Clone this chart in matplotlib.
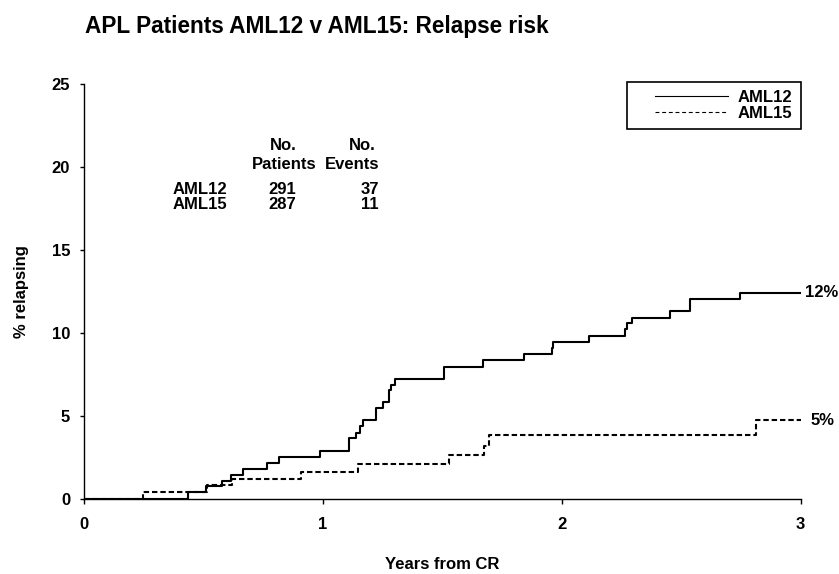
import matplotlib
matplotlib.use("Agg")
import matplotlib.pyplot as plt
from matplotlib.lines import Line2D
from matplotlib.legend_handler import HandlerLine2D

plt.rcParams['font.family'] = ['Liberation Sans', 'DejaVu Sans']
plt.rcParams['font.weight'] = 'bold'
plt.rcParams['axes.labelweight'] = 'bold'

# cumulative relapse (%) at each event time (years from CR)
aml12_years = [0.434, 0.511, 0.577, 0.616, 0.667, 0.765, 0.818, 0.989, 1.110, 1.138,
               1.156, 1.170, 1.223, 1.250, 1.275, 1.285, 1.303, 1.509, 1.670, 1.843,
               1.958, 1.965, 2.113, 2.265, 2.271, 2.292, 2.452, 2.536, 2.745]
aml12_pct = [0.37, 0.75, 1.07, 1.42, 1.80, 2.16, 2.52, 2.88, 3.63, 3.97,
             4.37, 4.72, 5.44, 5.80, 6.54, 6.85, 7.21, 7.95, 8.34, 8.70,
             9.06, 9.44, 9.82, 10.22, 10.57, 10.90, 11.31, 12.03, 12.41]

aml15_years = [0.245, 0.514, 0.621, 0.909, 1.147, 1.526, 1.673, 1.697, 2.811]
aml15_pct = [0.39, 0.80, 1.19, 1.58, 2.08, 2.64, 3.18, 3.81, 4.73]

follow_up = 3.0

trials = ['AML12', 'AML15']
n_patients = [291, 287]
n_events = [37, 11]

x_ticks = [0, 1, 2, 3]
y_ticks = [0, 5, 10, 15, 20, 25]


def step_xy(years, pct):
    xs = [0.0] + list(years) + [follow_up]
    ys = [0.0] + list(pct) + [pct[-1]]
    return xs, ys


fig = plt.figure(figsize=(8.39, 5.74), dpi=100)
ax = fig.add_axes([0.1001, 0.1315, 0.8542, 0.7221])

x12, y12 = step_xy(aml12_years, aml12_pct)
x15, y15 = step_xy(aml15_years, aml15_pct)
ax.step(x15, y15, where='post', color='black', lw=1.5, ls=(0, (2.6, 1.4)))
ax.step(x12, y12, where='post', color='black', lw=1.5)

ax.set_xlim(0, 3)
ax.set_ylim(0, 25)
ax.set_xticks(x_ticks)
ax.set_yticks(y_ticks)
ax.spines['top'].set_visible(False)
ax.spines['right'].set_visible(False)
for s in ['left', 'bottom']:
    ax.spines[s].set_linewidth(1.0)
ax.tick_params(axis='x', length=3.6, width=1.0, pad=10, labelsize=12)
ax.tick_params(axis='y', length=3.0, width=1.0, pad=7, labelsize=12)

ax.set_xlabel('Years from CR', fontsize=12, labelpad=18)
ax.set_ylabel('% relapsing', fontsize=12, labelpad=16)

fig.text(0.1013, 1 - 33.3 / 574, 'APL Patients AML12 v AML15: Relapse risk',
         fontsize=16.3, fontweight='bold', ha='left', va='baseline')

# final relapse rates at the right end of each curve
ax.annotate(f'{round(aml12_pct[-1])}%', xy=(follow_up, aml12_pct[-1]),
            xytext=(3, 0), textcoords='offset points', ha='left', va='center',
            fontsize=12, annotation_clip=False)
ax.annotate(f'{round(aml15_pct[-1])}%', xy=(follow_up, aml15_pct[-1]),
            xytext=(7, 0), textcoords='offset points', ha='left', va='center',
            fontsize=12, annotation_clip=False)

# patient / event counts table
ax.text(0.833, 21.28, 'No.', ha='center', va='center', fontsize=12)
ax.text(0.840, 20.17, 'Patients', ha='center', va='center', fontsize=12)
ax.text(1.166, 21.28, 'No.', ha='center', va='center', fontsize=12)
ax.text(1.122, 20.17, 'Events', ha='center', va='center', fontsize=12)
rows_y = [18.61, 17.72]
for name, n, ev, yy in zip(trials, n_patients, n_events, rows_y):
    ax.text(0.3725, yy, name, ha='left', va='center', fontsize=12)
    ax.text(0.830, yy, str(n), ha='center', va='center', fontsize=12)
    ax.text(1.195, yy, str(ev), ha='center', va='center', fontsize=12)

h12 = Line2D([], [], color='black', lw=0.8)
h15 = Line2D([], [], color='black', lw=0.8, ls=(0, (3.5, 2.5)))
hdl = HandlerLine2D(numpoints=2, marker_pad=1.2)
leg = ax.legend([h12, h15], trials, loc='upper right', bbox_to_anchor=(1.0, 1.0055),
                borderaxespad=0, fontsize=12, handlelength=6.76, handletextpad=-0.6,
                borderpad=0.5, labelspacing=0.05, fancybox=False, framealpha=1,
                edgecolor='black', handler_map={h12: hdl, h15: hdl})
leg.get_frame().set_linewidth(1.2)

fig.savefig('out.png', dpi=100)
